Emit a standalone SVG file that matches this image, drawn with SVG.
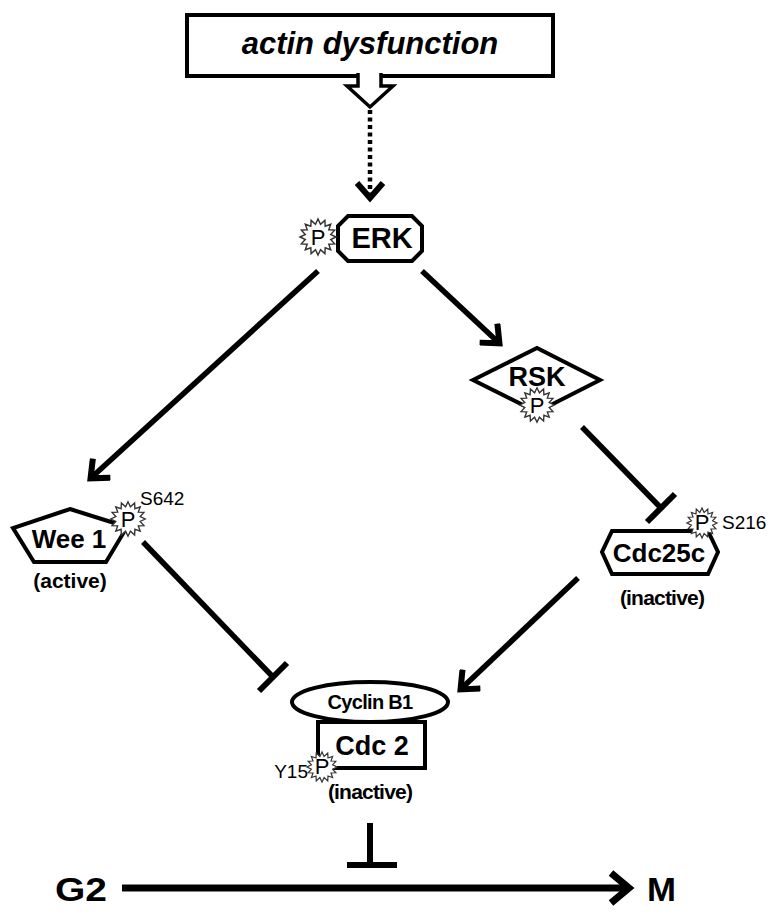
<svg xmlns="http://www.w3.org/2000/svg" width="783" height="920" viewBox="0 0 783 920">
<style>
.t{font-family:"Liberation Sans",Arial,sans-serif;fill:#000}
.b{font-weight:bold}
.shape{fill:#fff;stroke:#000;stroke-width:4;stroke-linejoin:miter}
.conn{stroke:#000;stroke-width:5.5;fill:none}
.bar{stroke:#000;stroke-width:6;fill:none}
.star{fill:#fff;stroke:#333;stroke-width:1.2}
.ptxt{font-family:"Liberation Sans",Arial,sans-serif;font-size:22px;text-anchor:middle}
.site{font-family:"Liberation Sans",Arial,sans-serif;font-size:19px}
</style>
<defs>
<marker id="arr" viewBox="0 0 36 30" refX="22" refY="15" markerWidth="36" markerHeight="30" markerUnits="userSpaceOnUse" orient="auto">
<path d="M9,2 L24,15 L9,28" fill="none" stroke="#000" stroke-width="6"/>
</marker>
<marker id="arrBig" viewBox="0 0 40 36" refX="24" refY="18" markerWidth="40" markerHeight="36" markerUnits="userSpaceOnUse" orient="auto">
<path d="M8,3 L26,18 L8,33" fill="none" stroke="#000" stroke-width="7"/>
</marker>
<path id="star" d="M15,0 L10.59,2.11 L13.86,5.74 L8.98,6.0 L10.61,10.61 L6.0,8.98 L5.74,13.86 L2.11,10.59 L0,15 L-2.11,10.59 L-5.74,13.86 L-6.0,8.98 L-10.61,10.61 L-8.98,6.0 L-13.86,5.74 L-10.59,2.11 L-15,0 L-10.59,-2.11 L-13.86,-5.74 L-8.98,-6.0 L-10.61,-10.61 L-6.0,-8.98 L-5.74,-13.86 L-2.11,-10.59 L0,-15 L2.11,-10.59 L5.74,-13.86 L6.0,-8.98 L10.61,-10.61 L8.98,-6.0 L13.86,-5.74 L10.59,-2.11 Z"/>
</defs>
<rect width="783" height="920" fill="#fff"/>

<g id="connectors">
<line x1="370" y1="110" x2="370" y2="196" stroke="#000" stroke-width="4.5" stroke-dasharray="4 3.5" marker-end="url(#arr)"/>
<line class="conn" x1="318" y1="271" x2="92" y2="477" marker-end="url(#arr)"/>
<line class="conn" x1="422" y1="271" x2="498" y2="342" marker-end="url(#arr)"/>
<line class="conn" x1="582" y1="427" x2="661" y2="508"/>
<line class="bar" x1="647" y1="522" x2="675" y2="494"/>
<line class="conn" x1="143" y1="542" x2="273" y2="677"/>
<line class="bar" x1="259" y1="691" x2="287" y2="663"/>
<line class="conn" x1="578" y1="578" x2="462" y2="688" marker-end="url(#arr)"/>
<line class="bar" x1="370" y1="823" x2="370" y2="865"/>
<line class="bar" x1="347" y1="865" x2="397" y2="865"/>
<line x1="122" y1="888" x2="627" y2="888" stroke="#000" stroke-width="7" marker-end="url(#arrBig)"/>
</g>

<g id="actin">
<rect class="shape" x="187" y="15" width="366" height="61"/>
<path d="M358,73 V86 H347 L370,107 L393,86 H381 V73" fill="#fff" stroke="#000" stroke-width="3.5"/>
<text class="t b" x="370" y="54" font-size="31" font-style="italic" text-anchor="middle">actin dysfunction</text>
</g>

<g id="ERK">
<polygon class="shape" points="348,216 412,216 422,226 422,251 412,261 348,261 338,251 338,226"/>
<text class="t b" x="382" y="248" font-size="29" text-anchor="middle">ERK</text>
<use href="#star" class="star" transform="translate(318,237) scale(1.2)"/>
<text class="ptxt" x="318" y="245">P</text>
</g>

<g id="RSK">
<polygon class="shape" points="473,380 537,348 600,380 537,412"/>
<text class="t b" x="537" y="386" font-size="27" text-anchor="middle">RSK</text>
<use href="#star" class="star" transform="translate(537,405) scale(1.15)"/>
<text class="ptxt" x="537" y="413">P</text>
</g>

<g id="Wee1">
<polygon class="shape" points="70,509 127,527 106,562 34,562 13,528"/>
<text class="t b" x="69" y="548" font-size="26" text-anchor="middle">Wee 1</text>
<use href="#star" class="star" transform="translate(128,519) scale(1.15)"/>
<text class="ptxt" x="128" y="527">P</text>
<text class="site" x="140" y="505">S642</text>
<text class="t b" x="70" y="588" font-size="21" text-anchor="middle">(active)</text>
</g>

<g id="Cdc25c">
<polygon class="shape" points="612,531 708,531 718,552 708,574 612,574 602,552"/>
<text class="t b" x="659" y="562" font-size="26" text-anchor="middle">Cdc25c</text>
<use href="#star" class="star" transform="translate(702,523) scale(1.0)"/>
<text class="ptxt" x="702" y="530" font-size="20">P</text>
<text class="site" x="722" y="529">S216</text>
<text class="t b" x="662" y="605" font-size="21" text-anchor="middle" letter-spacing="-0.8">(inactive)</text>
</g>

<g id="Cdc2">
<rect class="shape" x="318" y="722" width="107" height="46"/>
<ellipse class="shape" cx="370" cy="702" rx="78" ry="20"/>
<text class="t b" x="370" y="709" font-size="20" text-anchor="middle" letter-spacing="-0.7">Cyclin B1</text>
<text class="t b" x="372" y="755" font-size="27" text-anchor="middle">Cdc 2</text>
<use href="#star" class="star" transform="translate(322,767) scale(1.0)"/>
<text class="ptxt" x="322" y="774" font-size="20">P</text>
<text class="site" x="308" y="778" text-anchor="end">Y15</text>
<text class="t b" x="370" y="799" font-size="21" text-anchor="middle" letter-spacing="-0.8">(inactive)</text>
</g>

<g id="G2">
<text class="t b" x="55" y="901" font-size="33" textLength="52" lengthAdjust="spacingAndGlyphs">G2</text>
</g>
<g id="M">
<text class="t b" x="647" y="901" font-size="33" textLength="29" lengthAdjust="spacingAndGlyphs">M</text>
</g>
</svg>
